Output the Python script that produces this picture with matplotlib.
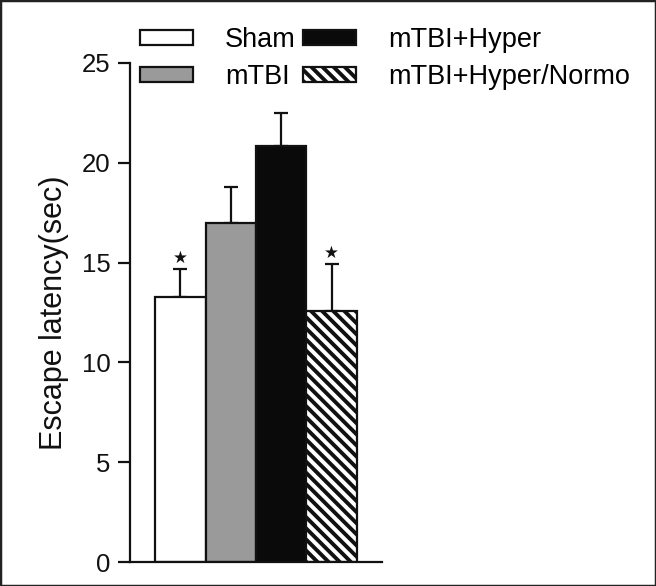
import matplotlib
matplotlib.use("Agg")
import matplotlib.pyplot as plt
from matplotlib.patches import Rectangle

groups = ["Sham", "mTBI", "mTBI+Hyper", "mTBI+Hyper/Normo"]
means = [13.3, 17.0, 20.85, 12.6]
errors = [1.4, 1.8, 1.65, 2.35]
significant = [True, False, False, True]
yticks = [0, 5, 10, 15, 20, 25]

facecolors = ["white", "#9a9a9a", "#0a0a0a", "white"]
hatches = [None, None, None, "\\\\\\"]

plt.rcParams['font.family'] = ['Liberation Sans', 'DejaVu Sans']
plt.rcParams['hatch.linewidth'] = 2.8

fig = plt.figure(figsize=(6.56, 5.86), dpi=100)
ax = fig.add_axes([130/656, 24/586, 252/656, 499/586])

x = list(range(len(groups)))
bars = []
for i in x:
    b = ax.bar(i, means[i], width=1.0, color=facecolors[i], edgecolor="#111111",
               linewidth=1.6, hatch=hatches[i], label=groups[i], zorder=2)
    bars.append(b)
    ax.errorbar(i, means[i], yerr=[[0], [errors[i]]], fmt='none', ecolor="#111111",
                elinewidth=1.6, capsize=5, capthick=1.6, zorder=1)
    if significant[i]:
        ax.annotate("★", (i, means[i] + errors[i]), xytext=(0, 1.5), textcoords='offset points',
                    ha='center', va='bottom', fontsize=12, family=['DejaVu Sans'], color="#111111")

ax.set_xlim(-1, 4)
ax.set_ylim(0, 25)
ax.set_yticks(yticks)
ax.set_xticks([])
for s in ['top', 'right']:
    ax.spines[s].set_visible(False)
for s in ['left', 'bottom']:
    ax.spines[s].set_linewidth(1.6)
    ax.spines[s].set_color("#111111")
ax.tick_params(axis='y', length=9, width=1.6, pad=5, labelsize=18.5, colors="#111111")
ax.set_ylabel("Escape latency(sec)", fontsize=22, va='center', color="#111111")
ax.yaxis.set_label_coords(-0.30, 0.5)

handles = [b.patches[0] for b in bars]
leg = fig.legend(handles, groups, loc='upper left', bbox_to_anchor=(140/656, 1 - 27/586),
                 ncol=2, frameon=False, fontsize=19.5, handlelength=1.96, handleheight=0.45,
                 handletextpad=1.18, columnspacing=0.26, labelspacing=0.42,
                 borderpad=0, borderaxespad=0)

fig.patches.append(Rectangle((0, 0), 1, 1, transform=fig.transFigure, fill=False,
                             edgecolor="#222222", linewidth=2.5))

fig.savefig("out.png", dpi=100)
